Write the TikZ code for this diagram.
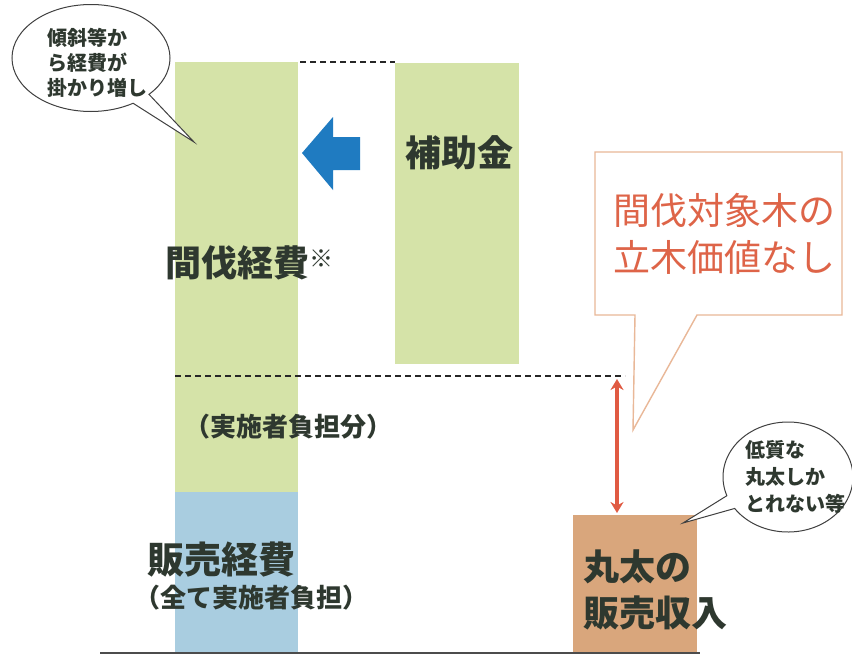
\documentclass[tikz,border=0pt]{standalone}
\usepackage{fontspec}
\setmainfont{Noto Sans CJK JP}
\usetikzlibrary{shapes.callouts,arrows.meta}
\definecolor{barGreen}{HTML}{D5E3A8}
\definecolor{barBlue}{HTML}{A9CDE0}
\definecolor{barBrown}{HTML}{D9A67C}
\definecolor{arrowBlue}{HTML}{1F7BC1}
\definecolor{txtDark}{HTML}{2E382F}
\definecolor{txtRed}{HTML}{DE6448}
\definecolor{boxEdge}{HTML}{E9B898}
\definecolor{arrRed}{HTML}{E05A42}
\begin{document}
\begin{tikzpicture}[x=1pt,y=-1pt,
  bar/.style={anchor=north west,inner sep=0pt,outer sep=0pt,draw=none},
  big/.style={font=\fontsize{36}{36}\selectfont\bfseries,text=txtDark,inner sep=0pt,anchor=west},
  mid/.style={font=\fontsize{26}{26}\selectfont\bfseries,text=txtDark,inner sep=0pt,anchor=west},
  small/.style={font=\fontsize{20}{25}\selectfont\bfseries,text=txtDark,inner sep=0pt,align=left},
  bubble/.style={ellipse callout,draw=black!75,line width=1pt,fill=white,inner sep=0pt},
  dashline/.style={draw=black!85,line width=1.8pt,dash pattern=on 6pt off 4pt}
]
\useasboundingbox (0,0) rectangle (852,654);
\fill[white] (0,0) rectangle (852,654);

% bars
\node[bar,fill=barGreen,minimum width=123pt,minimum height=430pt] (cost) at (175,62) {};
\node[bar,fill=barBlue,minimum width=123pt,minimum height=162pt] (sales) at (175,492) {};
\node[bar,fill=barGreen,minimum width=124pt,minimum height=301pt] (subsidy) at (395,63) {};
\node[bar,fill=barBrown,minimum width=124pt,minimum height=139pt] (log) at (573,515) {};

% baseline
\coordinate (b1) at (100,653);
\coordinate (b2) at (700,653);
\draw[black!70,line width=2pt] (b1) -- (b2);

% dashed lines
\coordinate (d1) at (300,62);
\coordinate (d2) at (395,62);
\draw[dashline] (d1) -- (d2);
\coordinate (d3) at (175,376);
\coordinate (d4) at (625,376);
\draw[dashline] (d3) -- (d4);

% blue arrow
\fill[arrowBlue] (302,153) -- (333,117) -- (333,137) -- (360,137) -- (360,170) -- (333,170) -- (333,190) -- cycle;

% texts in bars
\node[big,anchor=center] (hojo) at (459,153) {補助金};
\node[big] (kanbatsu) at (165,263) {間伐経費\raisebox{9pt}{\fontsize{24}{24}\selectfont\bfseries ※}};
\node[mid] (futan) at (184,427) {（実施者負担分）};
\node[big,font=\fontsize{37}{37}\selectfont\bfseries] (hanbai) at (147,560) {販売経費};
\node[mid] (subete) at (134,598) {（全て実施者負担）};
\node[big] (maruta1) at (583,567) {丸太の};
\node[big] (maruta2) at (583,613) {販売収入};

% red callout box
\draw[boxEdge,line width=1.4pt,fill=white] (595,152) -- (842,152) -- (842,315) -- (697,315) -- (633,430) -- (635,315) -- (595,315) -- cycle;
\node[font=\fontsize{37}{37}\selectfont,text=txtRed,inner sep=0pt] (red1) at (724,210) {間伐対象木の};
\node[font=\fontsize{37}{37}\selectfont,text=txtRed,inner sep=0pt] (red2) at (724,257) {立木価値なし};

% red double arrow
\coordinate (r1) at (617,379);
\coordinate (r2) at (617,513);
\draw[arrRed,line width=3.6pt,{Stealth[length=11pt,width=13pt]}-{Stealth[length=11pt,width=13pt]}] (r1) -- (r2);

% bubbles
\node[bubble,minimum width=158pt,minimum height=107pt,callout absolute pointer={(194,142)}] (bub1) at (91,58) {};
\node[small,anchor=north west] (bub1t) at (47,28) {傾斜等か\\ら経費が\\掛かり増し};
\node[bubble,minimum width=130pt,minimum height=110pt,callout absolute pointer={(683,523)}] (bub2) at (788,477) {};
\node[small,anchor=north west,font=\fontsize{20}{27}\selectfont\bfseries] (bub2t) at (745,440) {低質な\\丸太しか\\とれない等};
\end{tikzpicture}
\end{document}
